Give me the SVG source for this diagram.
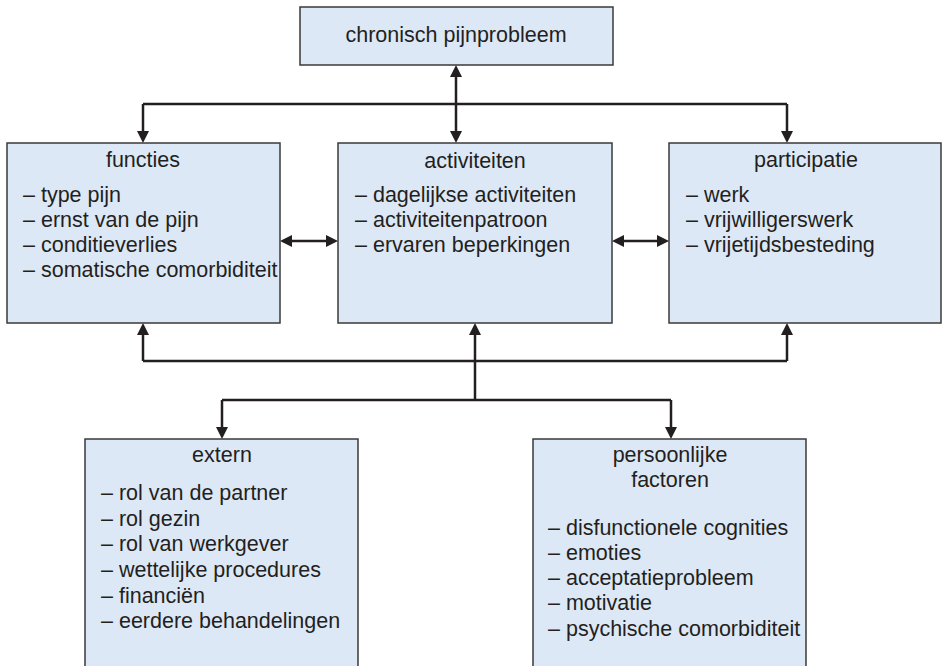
<svg xmlns="http://www.w3.org/2000/svg" width="944" height="666" viewBox="0 0 944 666">
  <style>
    .box { fill: #dde8f6; stroke: #3a3a3a; stroke-width: 1.5; }
    .t { font-family: "Liberation Sans", Arial, sans-serif; font-size: 21.5px; fill: #231f20; }
    .c { text-anchor: middle; }
    .ln { stroke: #231f20; stroke-width: 2.5; fill: none; }
    .ar { marker-end: url(#ah); }
    .ar2 { marker-start: url(#ah); marker-end: url(#ah); }
  </style>
  <defs>
    <marker id="ah" markerUnits="userSpaceOnUse" markerWidth="13" markerHeight="12" refX="0" refY="6" orient="auto-start-reverse" overflow="visible">
      <path d="M0,0 L12,6 L0,12 z" fill="#231f20"/>
    </marker>
  </defs>
  <rect width="944" height="666" fill="#ffffff"/>

  <g id="connectors">
    <line class="ln" x1="143" y1="104" x2="787" y2="104"/>
    <line class="ln ar" x1="143" y1="104" x2="143" y2="131"/>
    <line class="ln ar" x1="787" y1="104" x2="787" y2="131"/>
    <line class="ln ar2" x1="456" y1="77" x2="456" y2="131"/>
    <line class="ln ar2" x1="292" y1="241" x2="326" y2="241"/>
    <line class="ln ar2" x1="624" y1="241" x2="657" y2="241"/>
    <line class="ln" x1="143" y1="361" x2="787" y2="361"/>
    <line class="ln ar" x1="143" y1="361" x2="143" y2="335"/>
    <line class="ln ar" x1="787" y1="361" x2="787" y2="335"/>
    <line class="ln ar" x1="475" y1="400" x2="475" y2="335"/>
    <line class="ln" x1="222" y1="400" x2="671" y2="400"/>
    <line class="ln ar" x1="222" y1="400" x2="222" y2="427"/>
    <line class="ln ar" x1="671" y1="400" x2="671" y2="427"/>
  </g>

  <g id="chronisch">
    <rect class="box" x="300" y="7" width="313" height="58"/>
    <text class="t c" x="456" y="42">chronisch pijnprobleem</text>
  </g>

  <g id="functies">
    <rect class="box" x="7" y="143" width="273" height="180"/>
    <text class="t c" x="143" y="167">functies</text>
    <text class="t" x="23" y="202">– type pijn</text>
    <text class="t" x="23" y="227">– ernst van de pijn</text>
    <text class="t" x="23" y="252">– conditieverlies</text>
    <text class="t" x="23" y="277">– somatische comorbiditeit</text>
  </g>

  <g id="activiteiten">
    <rect class="box" x="338" y="143" width="274" height="180"/>
    <text class="t c" x="475" y="168">activiteiten</text>
    <text class="t" x="355" y="202">– dagelijkse activiteiten</text>
    <text class="t" x="355" y="227">– activiteitenpatroon</text>
    <text class="t" x="355" y="252">– ervaren beperkingen</text>
  </g>

  <g id="participatie">
    <rect class="box" x="669" y="143" width="272" height="180"/>
    <text class="t c" x="806" y="167">participatie</text>
    <text class="t" x="686" y="202">– werk</text>
    <text class="t" x="686" y="227">– vrijwilligerswerk</text>
    <text class="t" x="686" y="252">– vrijetijdsbesteding</text>
  </g>

  <g id="extern">
    <rect class="box" x="85" y="439" width="273" height="240"/>
    <text class="t c" x="222" y="462">extern</text>
    <text class="t" x="101" y="500">– rol van de partner</text>
    <text class="t" x="101" y="526">– rol gezin</text>
    <text class="t" x="101" y="551">– rol van werkgever</text>
    <text class="t" x="101" y="577">– wettelijke procedures</text>
    <text class="t" x="101" y="603">– financiën</text>
    <text class="t" x="101" y="628">– eerdere behandelingen</text>
  </g>

  <g id="persoonlijke">
    <rect class="box" x="533" y="439" width="273" height="240"/>
    <text class="t c" x="670" y="462">persoonlijke</text>
    <text class="t c" x="670" y="487">factoren</text>
    <text class="t" x="548" y="535">– disfunctionele cognities</text>
    <text class="t" x="548" y="560">– emoties</text>
    <text class="t" x="548" y="585">– acceptatieprobleem</text>
    <text class="t" x="548" y="610">– motivatie</text>
    <text class="t" x="548" y="636">– psychische comorbiditeit</text>
  </g>
</svg>
